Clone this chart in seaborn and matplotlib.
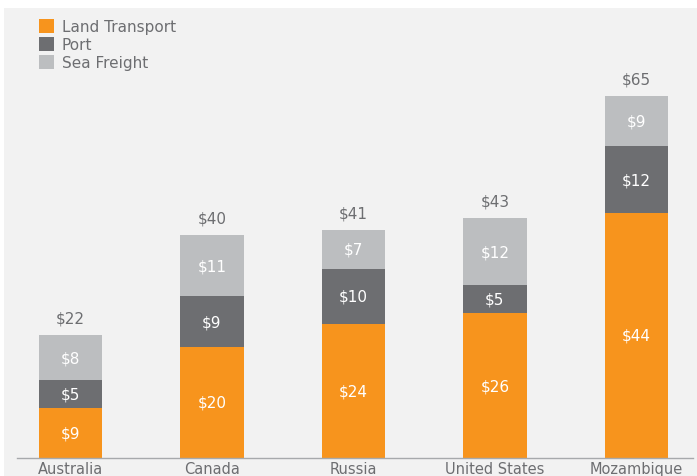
import matplotlib
matplotlib.use("Agg")
import matplotlib.pyplot as plt
from matplotlib.patches import Patch, Rectangle
import numpy as np
import pandas as pd
import seaborn as sns

countries = ["Australia", "Canada", "Russia", "United States", "Mozambique"]
land_transport = [9, 20, 24, 26, 44]
port = [5, 9, 10, 5, 12]
sea_freight = [8, 11, 7, 12, 9]
series_names = ["Land Transport", "Port", "Sea Freight"]

ORANGE = "#F7941D"
DARK = "#6D6E71"
LIGHT = "#BCBEC0"
BG = "#F2F2F2"
TEXT = "#6D6E71"

sns.set_theme(style="white")
plt.rcParams["font.family"] = ["DejaVu Sans"]

W, H = 697, 477
fig = plt.figure(figsize=(W / 100, H / 100), dpi=100, facecolor="white")
fig.patches.append(Rectangle((4 / W, 0), 1, (H - 9) / H, transform=fig.transFigure,
                             facecolor=BG, edgecolor="none", zorder=-10))

# axes spans the baseline from x=17 to x=693 px, bottom at y=459 px
ax = fig.add_axes([17 / W, (H - 459) / H, (693 - 17) / W, (459 - 20) / H])
ax.set_facecolor("none")

df = pd.DataFrame({
    "country": countries,
    "land": land_transport,
    "port": port,
    "sea": sea_freight,
})
df["land_port"] = df["land"] + df["port"]
df["total"] = df["land_port"] + df["sea"]

# stacked bars by overlaying cumulative totals
bw = 0.45
for col, c in (("total", LIGHT), ("land_port", DARK), ("land", ORANGE)):
    sns.barplot(data=df, x="country", y=col, color=c, width=bw, saturation=1,
                linewidth=0, ax=ax)

ppu = 5.57  # pixels per unit
ax.set_xlim(-0.378, 4.40)
ax.set_ylim(0, (459 - 20) / ppu)

for i, row in df.iterrows():
    ax.text(i, row["land"] / 2, f"${row['land']}", ha="center", va="center",
            color="white", fontsize=11)
    ax.text(i, row["land"] + row["port"] / 2, f"${row['port']}", ha="center", va="center",
            color="white", fontsize=11)
    ax.text(i, row["land_port"] + row["sea"] / 2, f"${row['sea']}", ha="center", va="center",
            color="white", fontsize=11)
    ax.text(i, row["total"] + 17 / ppu, f"${row['total']}", ha="center", va="center",
            color=TEXT, fontsize=11)

sns.despine(ax=ax, left=True, top=True, right=True)
ax.spines["bottom"].set_color("#A7A9AC")
ax.spines["bottom"].set_linewidth(1.0)
ax.set_yticks([])
ax.set_xlabel("")
ax.set_ylabel("")
ax.tick_params(axis="x", length=0, pad=2, labelsize=10.5, labelcolor=TEXT)

handles = [Patch(facecolor=c, edgecolor="none") for c in (ORANGE, DARK, LIGHT)]
fig.legend(handles, series_names, loc="upper left",
           bbox_to_anchor=(39 / W, 1 - 20 / H), frameon=False,
           fontsize=11, labelcolor=TEXT, handlelength=1.0, handleheight=1.0,
           handletextpad=0.5, labelspacing=0.2, borderaxespad=0, borderpad=0)

fig.savefig("out.png", dpi=100, facecolor="white")
